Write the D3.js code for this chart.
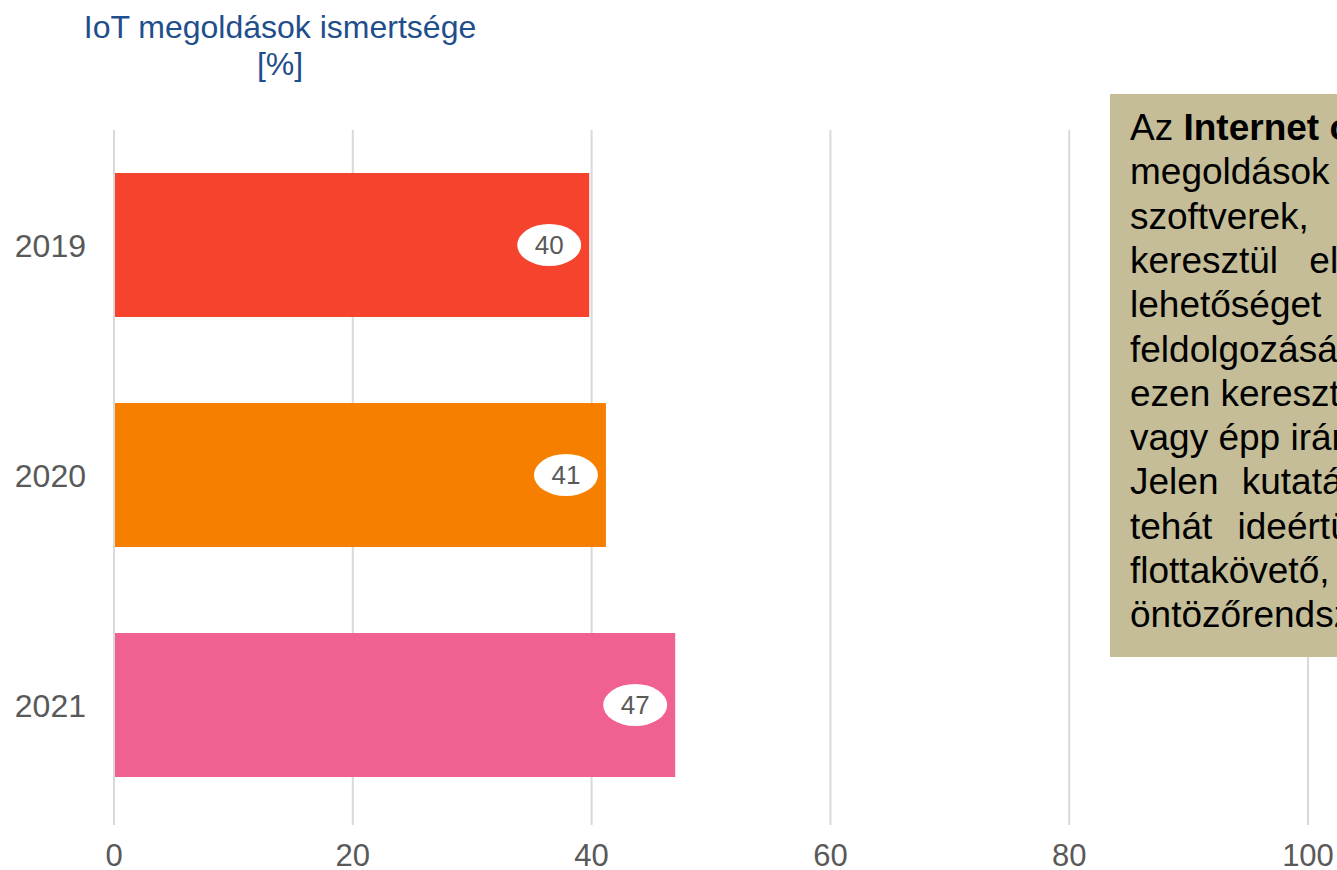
<!DOCTYPE html>
<html>
<head>
<meta charset="utf-8">
<script src="https://cdn.jsdelivr.net/npm/d3@7"></script>
<style>
  html, body { margin: 0; padding: 0; background: #fff; overflow: hidden; }
  svg { display: block; font-family: "Liberation Sans", Arial, sans-serif; }
</style>
</head>
<body>
<div id="chart"></div>
<script>
// -----------------------
// Data
// -----------------------
const years = ["2019", "2020", "2021"];
const awareness = [39.8, 41.2, 47.0];
const barLabels = ["40", "41", "47"];
const barColors = ["#F5432D", "#F77F00", "#F06090"];
const xTicks = [0, 20, 40, 60, 80, 100];

const titleLines = ["IoT megoldások ismertsége", "[%]"];

// side note (cut off by the right edge, like the original)
const noteLines = [
  ["Az ", "Internet of Things", " (IoT)"],
  ["megoldások alatt azokat az eszközöket,"],
  ["szoftverek, rendszerek értendők, amelyek"],
  ["keresztül elérhetők, kommunikálnak, és"],
  ["lehetőséget adnak az adatok gyűjtésére,"],
  ["feldolgozására, elemzésére, valamint"],
  ["ezen keresztül folyamatok monitorozására,"],
  ["vagy épp irányítására."],
  ["Jelen kutatásban IoT megoldásnak"],
  ["tehát ideértünk minden olyan okos,"],
  ["flottakövető, precíziós gazdálkodást segítő"],
  ["öntözőrendszert és szenzort."]
];
const noteSpacing = [0, 12, 32, 21, 26, 0, 0, 0, 13, 15, 16, 0];

const width = 1337, height = 870;

const svg = d3.select("#chart")
  .append("svg")
  .attr("width", width)
  .attr("height", height);

const x = d3.scaleLinear()
  .domain([0, 100])
  .range([114, 1308]);

const y = d3.scaleBand()
  .domain(years)
  .range([130, 820])
  .paddingInner(0.374)
  .paddingOuter(0.187);

const rows = years.map((year, i) => ({
  year, value: awareness[i], label: barLabels[i], color: barColors[i]
}));

// Gridlines
svg.append("g")
  .selectAll("line")
  .data(xTicks)
  .join("line")
  .attr("x1", d => x(d))
  .attr("x2", d => x(d))
  .attr("y1", 130)
  .attr("y2", 825)
  .attr("stroke", "#D9D9D9")
  .attr("stroke-width", 2);

// Bars
svg.append("g")
  .selectAll("rect")
  .data(rows)
  .join("rect")
  .attr("x", x(0) + 1)
  .attr("y", d => y(d.year))
  .attr("width", d => x(d.value) - x(0) - 1)
  .attr("height", y.bandwidth())
  .attr("fill", d => d.color);

// Value bubbles
const bubble = svg.append("g")
  .selectAll("g")
  .data(rows)
  .join("g")
  .attr("transform", d => `translate(${x(d.value) - 40},${y(d.year) + y.bandwidth() / 2})`);

bubble.append("ellipse")
  .attr("rx", 32)
  .attr("ry", 21)
  .attr("fill", "#fff");

bubble.append("text")
  .attr("text-anchor", "middle")
  .attr("dy", "0.36em")
  .attr("font-size", 26)
  .attr("fill", "#595959")
  .text(d => d.label);

// Year labels
svg.append("g")
  .selectAll("text")
  .data(years)
  .join("text")
  .attr("x", 86)
  .attr("y", d => y(d) + y.bandwidth() / 2)
  .attr("dy", "0.36em")
  .attr("text-anchor", "end")
  .attr("font-size", 32)
  .attr("fill", "#595959")
  .text(d => d);

// X axis labels
svg.append("g")
  .selectAll("text")
  .data(xTicks)
  .join("text")
  .attr("x", d => x(d))
  .attr("y", 866)
  .attr("text-anchor", "middle")
  .attr("font-size", 31)
  .attr("font-family", "'Liberation Sans Narrow', 'Arial Narrow', sans-serif")
  .attr("fill", "#595959")
  .text(d => d);

// Title
svg.append("g")
  .selectAll("text")
  .data(titleLines)
  .join("text")
  .attr("x", 280)
  .attr("y", (d, i) => 38 + i * 37)
  .attr("text-anchor", "middle")
  .attr("font-size", 32)
  .attr("fill", "#1F4E8C")
  .text(d => d);

// Note box
svg.append("rect")
  .attr("x", 1110)
  .attr("y", 94)
  .attr("width", 420)
  .attr("height", 563)
  .attr("fill", "#C4BD97");

const note = svg.append("g")
  .selectAll("text")
  .data(noteLines)
  .join("text")
  .attr("x", 1130)
  .attr("y", (d, i) => 140 + i * 44.3)
  .attr("font-size", 37)
  .attr("fill", "#000")
  .attr("word-spacing", (d, i) => noteSpacing[i])
  .style("white-space", "pre");

note.selectAll("tspan")
  .data(d => d.map((t, j) => ({ t, bold: d.length > 1 && j === 1 })))
  .join("tspan")
  .attr("font-weight", d => d.bold ? "bold" : "normal")
  .text(d => d.t);
</script>
</body>
</html>
